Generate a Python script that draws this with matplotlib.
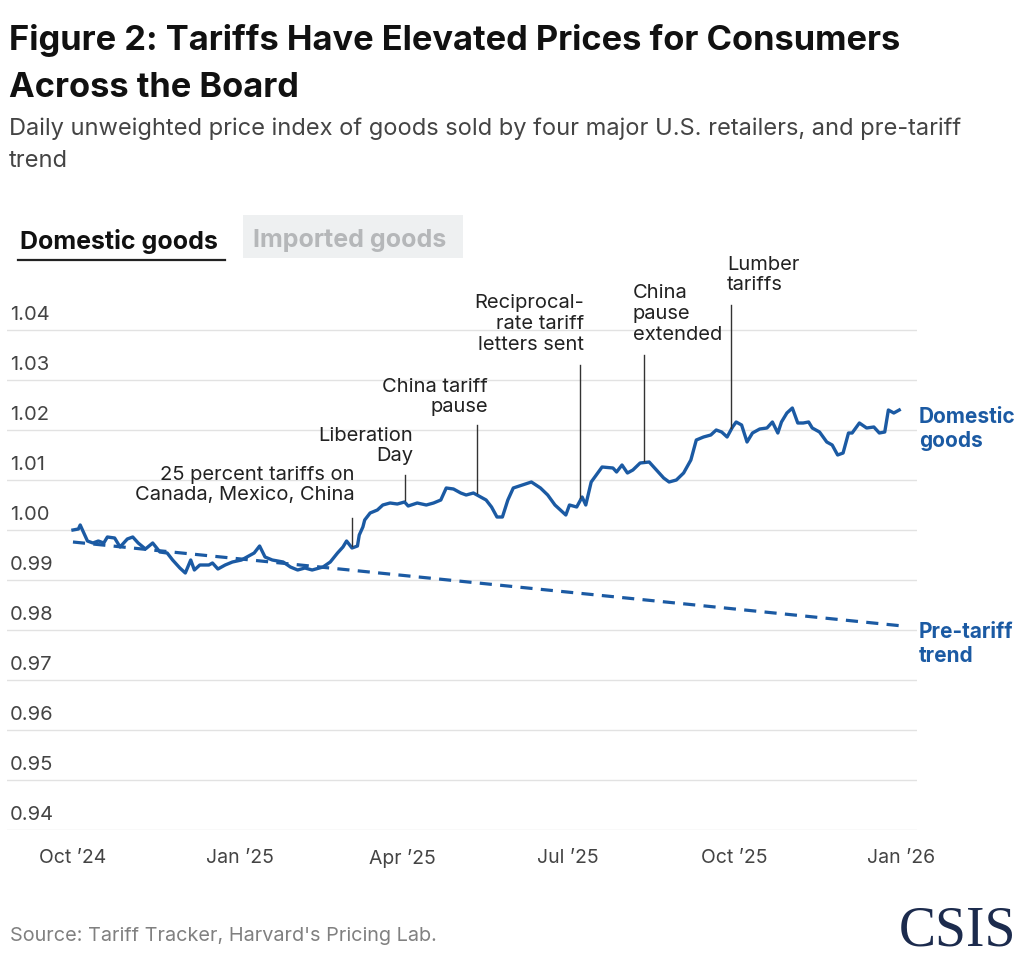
import numpy as np
import pandas as pd
import matplotlib
matplotlib.use("Agg")
import matplotlib.pyplot as plt
from matplotlib.patches import Rectangle
from matplotlib.lines import Line2D

plt.rcParams['font.family'] = ['Inter', 'DejaVu Sans']

# data: days since 2024-10-01 and index value
start = pd.Timestamp("2024-10-01")
domestic_days = [0, 3, 4, 6, 8, 11, 14, 17, 19, 23, 26, 30, 33, 36, 40, 44, 48, 52, 55, 59,
                 62, 65, 67, 70, 75, 77, 80, 84, 88, 93, 98, 100, 103, 106, 110, 116, 120, 124,
                 128, 132, 138, 142, 146, 149, 151, 154, 157, 158, 160, 161, 164, 168, 171, 175,
                 179, 183, 185, 190, 195, 199, 203, 206, 210, 214, 217, 221, 225, 228, 231, 234,
                 237, 240, 243, 248, 253, 258, 262, 266, 272, 274, 278, 281, 283, 286, 292, 298,
                 300, 303, 306, 309, 313, 318, 322, 326, 329, 333, 337, 341, 344, 348, 352, 355,
                 358, 361, 364, 366, 369, 372, 375, 379, 383, 386, 389, 391, 394, 397, 400, 403,
                 406, 408, 412, 416, 419, 422, 425, 428, 430, 434, 438, 442, 445, 448, 450, 453, 456]
domestic_index = [1.0000, 1.0002, 1.0010, 0.9994, 0.9978, 0.9974, 0.9978, 0.9974, 0.9986, 0.9984,
                  0.9966, 0.9982, 0.9986, 0.9974, 0.9962, 0.9974, 0.9956, 0.9954, 0.9940, 0.9924,
                  0.9914, 0.9940, 0.9920, 0.9930, 0.9930, 0.9934, 0.9922, 0.9930, 0.9936, 0.9940,
                  0.9950, 0.9954, 0.9968, 0.9946, 0.9940, 0.9936, 0.9926, 0.9920, 0.9924, 0.9920,
                  0.9926, 0.9936, 0.9954, 0.9966, 0.9978, 0.9964, 0.9968, 0.9990, 1.0006, 1.0020,
                  1.0034, 1.0040, 1.0050, 1.0054, 1.0052, 1.0056, 1.0048, 1.0054, 1.0050, 1.0054,
                  1.0060, 1.0084, 1.0082, 1.0074, 1.0070, 1.0074, 1.0066, 1.0060, 1.0046, 1.0026,
                  1.0026, 1.0060, 1.0084, 1.0090, 1.0096, 1.0084, 1.0070, 1.0050, 1.0030, 1.0050,
                  1.0046, 1.0066, 1.0050, 1.0096, 1.0126, 1.0124, 1.0116, 1.0130, 1.0114, 1.0120,
                  1.0134, 1.0136, 1.0120, 1.0104, 1.0096, 1.0100, 1.0114, 1.0140, 1.0180, 1.0186,
                  1.0190, 1.0200, 1.0196, 1.0186, 1.0206, 1.0216, 1.0210, 1.0176, 1.0194, 1.0202,
                  1.0204, 1.0216, 1.0194, 1.0216, 1.0234, 1.0244, 1.0214, 1.0214, 1.0216, 1.0204,
                  1.0196, 1.0176, 1.0170, 1.0150, 1.0154, 1.0194, 1.0194, 1.0214, 1.0204, 1.0206,
                  1.0194, 1.0196, 1.0240, 1.0234, 1.0240]
trend_days = [0, 458]
trend_index = [0.9976, 0.9808]

events = ["25 percent tariffs on\nCanada, Mexico, China", "Liberation\nDay", "China tariff\npause",
          "Reciprocal-\nrate tariff\nletters sent", "China\npause\nextended", "Lumber\ntariffs"]
event_dates = ["2025-03-04", "2025-04-02", "2025-05-12", "2025-07-08", "2025-08-12", "2025-09-29"]
event_tops = [1.0024, 1.0110, 1.0210, 1.0330, 1.0350, 1.0450]

y_ticks = [0.94, 0.95, 0.96, 0.97, 0.98, 0.99, 1.00, 1.01, 1.02, 1.03, 1.04]
x_ticks = ["2024-10-01", "2025-01-01", "2025-04-01", "2025-07-01", "2025-10-01", "2026-01-01"]
x_labels = ["Oct \u201924", "Jan \u201925", "Apr \u201925", "Jul \u201925", "Oct \u201925", "Jan \u201926"]

BLUE = "#1b5aa3"
W, H = 1024, 957


def fx(px):
    return px / W


def fy(py):
    return 1 - py / H


fig = plt.figure(figsize=(W / 100, H / 100), dpi=100)
ax_left, ax_right = 7, 917
ax = fig.add_axes([fx(ax_left), fy(830), fx(ax_right) - fx(ax_left), fy(255) - fy(830)])

dom_dates = start + pd.to_timedelta(domestic_days, unit="D")
tr_dates = start + pd.to_timedelta(trend_days, unit="D")

for v in y_ticks:
    ax.axhline(v, color="#e2e2e2", lw=1, zorder=0)
    ax.text((10 - ax_left) / (ax_right - ax_left), v + 0.0030, f"{v:.2f}",
            transform=ax.get_yaxis_transform(),
            fontsize=14.5, color="#444444", va="center", ha="left")

ax.plot(tr_dates, trend_index, color=BLUE, lw=2.3, dashes=(3.8, 2.6), solid_capstyle="butt")
ax.plot(dom_dates, domestic_index, color=BLUE, lw=2.4, solid_joinstyle="round")

for label, d, top in zip(events, event_dates, event_tops):
    d = pd.Timestamp(d)
    day = (d - start).days
    bottom = np.interp(day, domestic_days, domestic_index) + 0.0004
    ax.plot([d, d], [bottom, top], color="#333333", lw=1, clip_on=False)

ax.set_xlim(start - pd.Timedelta(days=36.4), start + pd.Timedelta(days=465.8))
ax.set_ylim(0.94, 1.055)
ax.set_xticks(pd.to_datetime(x_ticks))
ax.set_xticklabels(x_labels)
ax.set_yticks([])
ax.tick_params(axis="x", length=0, pad=14, labelsize=14, labelcolor="#444444")
for s in ax.spines.values():
    s.set_visible(False)
ax.patch.set_alpha(0)

# annotation texts (figure pixel positions)
ann_kw = dict(fontsize=14.5, color="#222222", linespacing=1.2)
fig.text(fx(355), fy(485), events[0], ha="right", va="center", **ann_kw)
fig.text(fx(413), fy(446), events[1], ha="right", va="center", **ann_kw)
fig.text(fx(488), fy(397), events[2], ha="right", va="center", **ann_kw)
fig.text(fx(584), fy(324), events[3], ha="right", va="center", **ann_kw)
fig.text(fx(633), fy(314), events[4], ha="left", va="center", **ann_kw)
fig.text(fx(727), fy(275), events[5], ha="left", va="center", **ann_kw)

# end labels
fig.text(fx(919), fy(429), "Domestic\ngoods", ha="left", va="center", fontsize=15,
         fontweight="bold", color=BLUE, linespacing=1.3)
fig.text(fx(919), fy(644), "Pre-tariff\ntrend", ha="left", va="center", fontsize=15,
         fontweight="bold", color=BLUE, linespacing=1.3)

# title and subtitle
fig.text(fx(9), fy(50), "Figure 2: Tariffs Have Elevated Prices for Consumers", ha="left",
         va="baseline", fontsize=24.8, fontweight="bold", color="#111111")
fig.text(fx(9), fy(97), "Across the Board", ha="left", va="baseline", fontsize=24.8,
         fontweight="bold", color="#111111")
fig.text(fx(9), fy(135), "Daily unweighted price index of goods sold by four major U.S. retailers, and pre-tariff",
         ha="left", va="baseline", fontsize=17, color="#444444")
fig.text(fx(9), fy(167), "trend", ha="left", va="baseline", fontsize=17, color="#444444")

# tabs
fig.add_artist(Rectangle((fx(243), fy(258)), fx(463) - fx(243), fy(215) - fy(258),
                         transform=fig.transFigure, facecolor="#eef0f1", edgecolor="none"))
fig.text(fx(20), fy(241), "Domestic goods", ha="left", va="center", fontsize=18,
         fontweight="bold", color="#111111")
fig.text(fx(253), fy(241), "Imported goods", ha="left", va="center", fontsize=18,
         fontweight="bold", color="#b5b7b9")
fig.add_artist(Line2D([fx(18), fx(225)], [fy(260), fy(260)], transform=fig.transFigure,
                      color="#222222", lw=1.6))

# footer
fig.text(fx(10), fy(936), "Source: Tariff Tracker, Harvard's Pricing Lab.", ha="left", va="center",
         fontsize=14.3, color="#808080")
fig.text(fx(1016), fy(945), "CSIS", ha="right", va="baseline", fontsize=40,
         family=["Liberation Serif", "DejaVu Serif"], color="#1c2b4d")

fig.savefig("out.png", dpi=100)
